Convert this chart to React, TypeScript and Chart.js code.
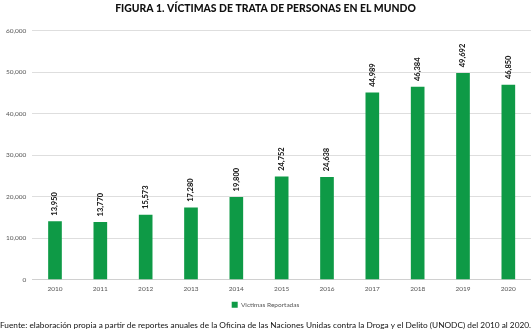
import React, { useEffect, useRef } from "react";
import { Chart, registerables } from "chart.js";

Chart.register(...registerables);

const years = ["2010", "2011", "2012", "2013", "2014", "2015", "2016", "2017", "2018", "2019", "2020"];
const victims = [13950, 13770, 15573, 17280, 19800, 24752, 24638, 44989, 46384, 49692, 46850];
const seriesName = "Victimas Reportadas";
const titleText = "FIGURA 1. VÍCTIMAS DE TRATA DE PERSONAS EN EL MUNDO";
const sourceText =
  "Fuente: elaboración propia a partir de reportes anuales de la Oficina de las Naciones Unidas contra la Droga y el Delito (UNODC) del 2010 al 2020.";

const GREEN = "#0e9a46";
const FONT = "Lato, 'Open Sans', sans-serif";

const fmt = (v: number) => v.toLocaleString("en-US");

const rotatedLabels = {
  id: "rotatedLabels",
  afterDatasetsDraw(chart: any) {
    const ctx = chart.ctx;
    const meta = chart.getDatasetMeta(0);
    ctx.save();
    ctx.fillStyle = "#222";
    ctx.font = `900 7.5px ${FONT}`;
    ctx.textAlign = "left";
    ctx.textBaseline = "middle";
    meta.data.forEach((bar: any, i: number) => {
      ctx.save();
      ctx.translate(bar.x, bar.y - 6);
      ctx.rotate(-Math.PI / 2);
      ctx.fillText(fmt(victims[i]), 0, 0);
      ctx.restore();
    });
    ctx.restore();
  },
};

export default function App() {
  const ref = useRef<HTMLCanvasElement>(null);
  useEffect(() => {
    if (!ref.current) return;
    const chart = new Chart(ref.current, {
      type: "bar",
      data: {
        labels: years,
        datasets: [
          {
            label: seriesName,
            data: victims,
            backgroundColor: GREEN,
            borderWidth: 0,
            barThickness: 13,
          },
        ],
      },
      options: {
        animation: false,
        responsive: false,
        layout: { padding: { left: 0, right: 0, top: 0, bottom: 0 } },
        plugins: {
          title: {
            display: true,
            text: titleText,
            color: "#111",
            font: { family: FONT, size: 10.4, weight: "900" },
            padding: { top: 2, bottom: 16 },
          },
          subtitle: {
            display: true,
            position: "bottom",
            align: "start",
            text: sourceText,
            color: "#111",
            font: { family: FONT, size: 8.4 },
            padding: { top: 2, bottom: 5 },
          },
          legend: {
            display: true,
            position: "bottom",
            labels: {
              boxWidth: 6,
              boxHeight: 6,
              color: "#555",
              font: { family: FONT, size: 6.5 },
              padding: 4,
            },
          },
          tooltip: { enabled: false },
        },
        scales: {
          x: {
            grid: { display: false, drawTicks: false },
            border: { display: true, color: "#d0d0d0" },
            ticks: { color: "#555", font: { family: FONT, size: 6.5 }, padding: 5 },
          },
          y: {
            min: 0,
            max: 60000,
            ticks: {
              stepSize: 10000,
              color: "#555",
              font: { family: FONT, size: 6.5 },
              padding: 6,
              callback: (v: any) => fmt(Number(v)),
            },
            grid: { color: "#dedede", drawTicks: false },
            border: { display: false },
          },
        },
      },
      plugins: [rotatedLabels],
    });
    return () => chart.destroy();
  }, []);
  return (
    <div style={{ position: "fixed", left: 0, top: 0, width: 531, height: 335, background: "#fff" }}>
      <canvas ref={ref} width={531} height={335} />
    </div>
  );
}
